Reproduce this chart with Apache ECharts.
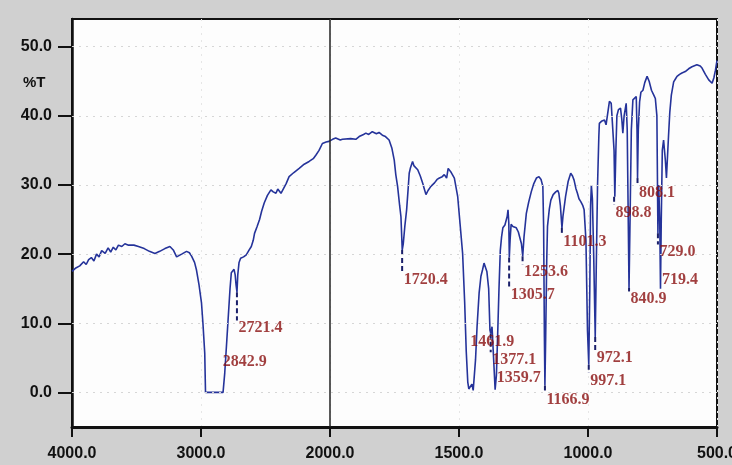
<!DOCTYPE html>
<html>
<head>
<meta charset="utf-8">
<script src="https://cdn.jsdelivr.net/npm/echarts@6/dist/echarts.min.js"></script>
<style>
html,body{margin:0;padding:0;background:#cfcfcf;}
#chart{width:732px;height:465px;}
</style>
</head>
<body>
<div id="chart"></div>
<script>
// Wavenumbers (cm-1) and %T
const wavenumbers = [4000,3970,3940,3910,3890,3871,3850,3830,3810,3790,3770,3743,3720,3700,3680,3660,3640,3614,3590,3562,3520,3485,3440,3400,3357,3320,3280,3241,3215,3189,3150,3112,3090,3073,3050,3035,3015,2996,2985,2971,2965,2950,2900,2850,2829,2816,2800,2790,2775,2765,2744,2735,2728,2721,2715,2705,2693,2670,2649,2630,2610,2595,2585,2565,2546,2530,2510,2485,2458,2440,2419,2405,2394,2380,2368,2340,2317,2280,2239,2200,2162,2130,2110,2085,2059,2030,2008,1990,1978,1960,1952,1920,1900,1887,1870,1861,1850,1836,1820,1810,1797,1785,1771,1760,1751,1745,1738,1730,1725,1720,1716,1710,1703,1697,1693,1688,1680,1675,1668,1660,1650,1641,1635,1628,1620,1609,1595,1585,1576,1565,1557,1548,1542,1538,1530,1518,1505,1495,1486,1478,1472,1466,1462,1455,1450,1445,1440,1436,1430,1422,1415,1409,1403,1398,1392,1385,1380,1377,1372,1366,1360,1355,1350,1345,1340,1335,1330,1322,1317,1313,1310,1307,1305,1302,1298,1291,1285,1278,1270,1265,1258,1253,1248,1239,1230,1220,1210,1200,1190,1182,1175,1172,1169,1167,1164,1160,1157,1150,1144,1135,1125,1117,1113,1107,1101,1097,1087,1077,1067,1060,1054,1047,1041,1035,1028,1020,1015,1008,1002,997,993,990,987,983,978,972,968,963,958,956,948,936,930,925,917,910,904,899,896,892,888,882,874,869,865,860,852,848,844,841,837,832,826,822,813,810,808,805,800,795,787,780,771,763,754,745,739,733,729,726,722,719,716,712,707,700,696,692,688,683,677,668,660,655,645,636,623,610,597,578,565,558,545,532,519,512,506,500];
const transmittance = [17.5,18.0,18.3,18.9,18.5,19.2,19.5,19.0,20.0,19.6,20.5,20.1,20.9,20.3,21.0,20.6,21.3,21.1,21.5,21.3,21.3,21.1,20.8,20.4,20.1,20.4,20.8,21.1,20.6,19.6,20.0,20.4,20.2,19.7,18.8,17.7,15.5,12.9,10.0,5.7,0,0,0,0,0,2.8,7.5,10.5,15.0,17.3,17.8,17.0,15.5,14.5,17.0,18.8,19.4,19.6,19.9,20.5,21.1,22.0,23.0,24.0,25.0,26.2,27.4,28.5,29.3,29.0,28.8,29.4,29.3,28.8,29.0,30.2,31.2,31.8,32.4,33.0,33.4,33.8,34.3,35.0,36.0,36.2,36.3,36.6,36.8,36.5,36.6,36.7,36.6,37.0,37.3,37.5,37.3,37.7,37.4,37.6,37.2,37.0,36.5,35.3,33.6,31.5,29.8,27.0,25.4,20.6,21.5,24.0,26.4,29.5,31.7,32.5,33.4,32.8,33.0,32.2,31.3,30.3,29.5,28.6,29.2,29.8,30.3,30.8,31.0,31.2,31.5,31.0,32.4,32.2,31.8,31.0,28.3,24.0,20.1,13.0,6.0,1.5,0.5,0.3,1.2,0.3,0.4,4.7,9.5,14.4,16.8,17.7,18.7,18.9,17.5,15.0,9.0,8.5,9.5,5.0,0.4,2.5,8.5,15.0,20.5,22.5,23.8,24.2,24.0,25.5,26.4,24.5,19.5,22.0,24.3,24.0,23.8,23.8,23.2,23.0,21.5,19.7,22.5,25.9,27.5,29.0,30.2,31.0,31.2,30.8,29.8,24.0,8.0,1.0,8.0,19.0,24.0,26.5,27.8,28.6,29.0,29.2,28.8,27.0,23.8,25.5,28.3,30.5,31.7,31.3,30.7,29.5,28.8,28.0,27.6,27.0,26.4,22.0,9.0,4.0,15.0,27.0,30.0,28.0,20.0,8.0,18.0,30.0,37.0,38.9,39.2,39.4,38.7,40.0,42.1,41.8,41.6,35.0,28.3,35.0,40.0,40.9,41.1,39.5,37.5,40.0,41.8,38.0,25.0,15.1,25.0,38.0,42.3,42.5,42.8,38.0,31.0,38.0,42.0,43.4,43.7,44.8,45.7,45.0,43.7,43.0,42.5,40.0,23.0,30.0,25.0,15.0,25.0,35.0,36.5,33.5,31.0,34.0,37.0,40.5,43.0,44.9,45.4,45.7,46.0,46.2,46.4,46.8,47.1,47.4,47.2,46.9,46.0,45.2,44.7,45.5,46.6,48.0];

// Picked peaks
const peakWn = [2842.9,2721.4,1720.4,1461.9,1377.1,1359.7,1305.7,1253.6,1166.9,1101.3,997.1,972.1,898.8,840.9,808.1,729.0,719.4];
const peakT = [0,14.5,20.6,0.5,8.5,0.4,19.5,19.7,1.0,23.8,4.0,8.0,28.3,15.1,31.0,23.0,15.0];
const peakLabelT = [4.4,9.3,16.3,7.3,4.7,2.1,14.1,17.4,-1.1,21.8,1.7,5.0,26.0,13.5,28.9,20.3,16.3];

// Tick labels
const xTickWn = [4000,3000,2000,1500,1000,500];
const yTicks = [0,10,20,30,40,50];

// Axis with scale change at 2000 cm-1 (half-scale above 2000)
function toU(w){ return w >= 2000 ? 4000 - w : 2000 + 2*(2000 - w); }
function fromU(u){ return u <= 2000 ? 4000 - u : 2000 - (u - 2000)/2; }

const lineData = wavenumbers.map((w,i)=>[toU(w), transmittance[i]]);
const markerData = [];
peakWn.forEach((w,i)=>{
  const end = peakLabelT[i] + 1.1;
  if (end < peakT[i]) markerData.push([toU(w), peakT[i], end]);
});
const labelData = peakWn.map((w,i)=>({name: w.toFixed(1), value:[toU(w), peakLabelT[i]]}));

const chart = echarts.init(document.getElementById('chart'));
chart.setOption({
  backgroundColor: '#d0d0d0',
  animation: false,
  grid: {left:72, right:15, top:19, bottom:38, containLabel:false, outerBoundsMode:'none',
    show:true, backgroundColor:'#fdfdfd', borderColor:'#111', borderWidth:2},
  xAxis: {
    type:'value', min:0, max:5000, interval:1000,
    axisLine:{show:true, onZero:false, lineStyle:{color:'#111', width:3}},
    axisTick:{show:true, inside:false, length:10, lineStyle:{color:'#111', width:2}},
    axisLabel:{margin:19, color:'#111', fontFamily:'Liberation Sans', fontWeight:'bold', fontSize:16,
      hideOverlap:false, formatter: v => fromU(v).toFixed(1)},
    splitLine:{show:true, lineStyle:{color:'#e6e6e6', type:[2,5], width:1}}
  },
  yAxis: {
    type:'value', min:-5, max:54,
    axisLine:{show:true, onZero:false, lineStyle:{color:'#111', width:2.5}},
    axisTick:{show:true, customValues: yTicks, length:14, lineStyle:{color:'#111', width:2}},
    axisLabel:{show:true, customValues: yTicks, margin:20, color:'#111', fontFamily:'Liberation Sans', fontWeight:'bold', fontSize:16,
      formatter: v => Number(v).toFixed(1)},
    splitLine:{show:false}
  },
  graphic: [{type:'text', left:23, top:75, style:{text:'%T', font:'bold 15px "Liberation Sans"', fill:'#111'}}],
  series: [
    {
      type:'line', data: lineData, showSymbol:false, symbol:'none',
      lineStyle:{color:'#25339a', width:1.6}, z:3,
      markLine:{
        silent:true, symbol:['none','none'], label:{show:false}, animation:false,
        data: [
          {xAxis:2000, lineStyle:{color:'#222', width:1.5, type:'solid'}},
          ...yTicks.map(t => ({yAxis:t, lineStyle:{color:'#d6d6d6', width:1, type:[2,5]}}))
        ]
      }
    },
    {
      type:'custom', data: markerData, z:4,
      renderItem: (params, api) => {
        const p1 = api.coord([api.value(0), api.value(1)]);
        const p2 = api.coord([api.value(0), api.value(2)]);
        return {type:'line', shape:{x1:p1[0], y1:p1[1], x2:p2[0], y2:p2[1]},
          style:{stroke:'#1a1f6a', lineWidth:2, lineDash:[5,3]}};
      }
    },
    {
      type:'scatter', data: labelData, symbolSize:1, itemStyle:{color:'rgba(0,0,0,0)'}, z:5,
      label:{show:true, position:'right', distance:1, formatter:'{b}', color:'#8a0f0f',
        fontFamily:'Liberation Serif', fontWeight:'bold', fontSize:16}
    }
  ]
});
</script>
</body>
</html>
